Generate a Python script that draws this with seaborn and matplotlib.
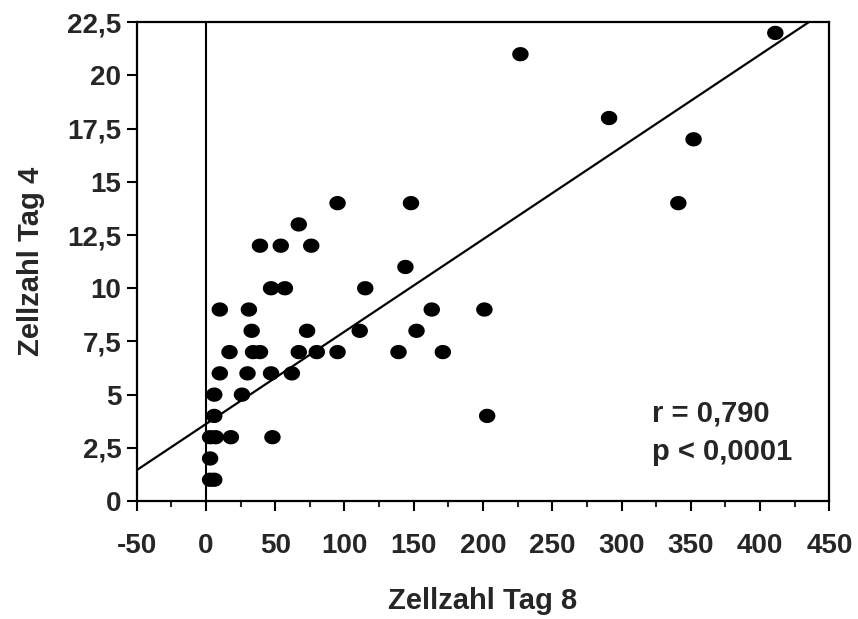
"""
Streudiagramm: Zellzahl Tag 8 gegen Zellzahl Tag 4 mit Regressionsgerade.
"""

import numpy as np
import pandas as pd
import matplotlib
matplotlib.use("Agg")
import matplotlib.pyplot as plt
from matplotlib.path import Path
from matplotlib.ticker import FuncFormatter, MultipleLocator
import seaborn as sns

# Daten
zellzahl_tag8 = [411, 227, 291, 352,
                 95, 148, 341,
                 67,
                 39, 54, 76,
                 144,
                 47, 57, 115,
                 10, 31, 163, 201,
                 33, 73, 111, 152,
                 17, 34, 39, 67, 80, 95, 139, 171,
                 10, 30, 47, 62,
                 6, 26,
                 6, 203,
                 3, 7, 18, 48,
                 3,
                 3, 6]
zellzahl_tag4 = [22, 21, 18, 17,
                 14, 14, 14,
                 13,
                 12, 12, 12,
                 11,
                 10, 10, 10,
                 9, 9, 9, 9,
                 8, 8, 8, 8,
                 7, 7, 7, 7, 7, 7, 7, 7,
                 6, 6, 6, 6,
                 5, 5,
                 4, 4,
                 3, 3, 3, 3,
                 2,
                 1, 1]

# Regressionsgerade wie in der Vorlage
achsenabschnitt = 3.62
steigung = 0.0434

statistik = ["r = 0,790", "p < 0,0001"]

df = pd.DataFrame({"Zellzahl Tag 8": zellzahl_tag8, "Zellzahl Tag 4": zellzahl_tag4})

sns.set_style("ticks")
plt.rcParams["font.family"] = ["Liberation Sans", "DejaVu Sans"]
plt.rcParams["font.weight"] = "bold"
plt.rcParams["axes.unicode_minus"] = False

fig = plt.figure(figsize=(8.58, 6.19), dpi=100)
ax = fig.add_axes([0.1593, 0.1906, 0.8073, 0.7734])

# elliptischer Marker
t = np.linspace(0, 2 * np.pi, 64)
ellipse = Path(np.column_stack([np.cos(t), 0.87 * np.sin(t)]), closed=True)

ax.axvline(0, color="black", lw=1.5, zorder=1)
x_line = np.array([-50, 450])
ax.plot(x_line, achsenabschnitt + steigung * x_line, color="black", lw=1.6, zorder=2)

sns.scatterplot(data=df, x="Zellzahl Tag 8", y="Zellzahl Tag 4", ax=ax,
                marker=ellipse, s=140, color="black", edgecolor="none", zorder=3)

ax.set_xlim(-50, 450)
ax.set_ylim(0, 22.5)
ax.xaxis.set_major_locator(MultipleLocator(50))
ax.xaxis.set_minor_locator(MultipleLocator(25))
ax.yaxis.set_major_locator(MultipleLocator(2.5))
ax.yaxis.set_major_formatter(FuncFormatter(lambda v, p: f"{v:g}".replace(".", ",")))

ax.tick_params(axis="both", which="major", direction="out", length=7, width=1.5,
               labelsize=20, color="black")
ax.tick_params(axis="x", which="major", pad=16)
ax.tick_params(axis="y", which="major", pad=4)
ax.tick_params(axis="x", which="minor", direction="out", length=4.5, width=1.5)
for lab in ax.get_xticklabels() + ax.get_yticklabels():
    lab.set_fontweight("bold")

for sp in ax.spines.values():
    sp.set_visible(True)
    sp.set_linewidth(1.6)
    sp.set_color("black")

ax.set_xlabel("Zellzahl Tag 8", fontsize=21, fontweight="bold", labelpad=20)
ax.set_ylabel("Zellzahl Tag 4", fontsize=21, fontweight="bold", labelpad=16)

ax.text(322, 4.1, statistik[0], fontsize=21, fontweight="bold", va="center", ha="left")
ax.text(322, 2.3, statistik[1], fontsize=21, fontweight="bold", va="center", ha="left")

fig.savefig("out.png", dpi=100)
